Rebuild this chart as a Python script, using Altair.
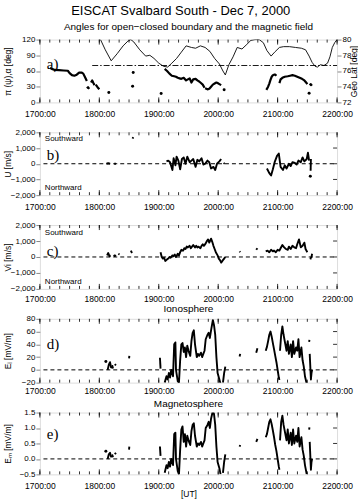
import altair as alt
import pandas as pd

FONT = "Liberation Sans"
SERIF = "Liberation Serif"
W = 298
HA, HB, HC, HD, HE = 63, 63, 64, 64, 62

HOUR_TICKS = [17, 18, 19, 20, 21, 22]
MINOR_TICKS = [17 + i / 6 for i in range(31)]

# ---------------- panel a ----------------
GEO_T = [18.02, 18.10, 18.20, 18.30, 18.40, 18.48, 18.53, 18.58, 18.68, 18.78, 18.85, 18.92, 19.00,
         19.08, 19.15, 19.22, 19.30, 19.38, 19.46, 19.55, 19.62, 19.70, 19.78, 19.86, 19.94, 20.02,
         20.08, 20.12, 20.18, 20.25, 20.32, 20.40, 20.47, 20.55, 20.62, 20.69, 20.76, 20.82, 20.89,
         20.95, 21.03, 21.10, 21.20, 21.30, 21.40, 21.47, 21.53, 21.58, 21.63, 21.67, 21.72, 21.78,
         21.84, 21.88, 21.92, 21.96, 22.00]
GEO_LAT = [80.0, 78.7, 77.3, 78.2, 79.2, 79.8, 80.0, 79.7, 78.7, 77.9, 78.0, 77.6, 77.0,
           76.6, 76.5, 77.0, 77.6, 78.4, 79.2, 79.0, 78.9, 79.2, 79.0, 78.5, 77.6, 76.9,
           76.0, 75.5, 76.8, 77.8, 79.0, 78.8, 79.3, 79.9, 80.0, 80.0, 79.6, 78.6, 77.9,
           78.4, 79.0, 79.1, 79.1, 79.0, 78.9, 78.7, 77.9, 77.1, 76.6, 76.5, 76.8, 76.7,
           77.0, 77.8, 79.0, 79.6, 80.0]

BOUNDARY_ANGLE = [70.5]
BOUNDARY_T = [17.88, 22.0]

ALPHA_SEG_T = [
    [17.17, 17.20, 17.25, 17.32, 17.40, 17.47, 17.50, 17.54, 17.58, 17.62, 17.66, 17.70, 17.73, 17.76, 17.79],
    [17.79, 17.81, 17.83],
    [17.86, 17.88, 17.90, 17.92],
    [17.94, 17.97, 18.00],
    [19.10, 19.14, 19.18, 19.22, 19.26, 19.29, 19.32, 19.35, 19.38, 19.42, 19.46, 19.49, 19.52, 19.55,
     19.58, 19.62, 19.65, 19.68, 19.71, 19.74, 19.77],
    [19.78, 19.80, 19.82, 19.85, 19.88, 19.91, 19.94, 19.97, 19.99, 20.02, 20.05],
    [20.81, 20.84, 20.86, 20.88, 20.90, 20.92, 20.94, 20.96, 20.98],
    [21.03, 21.05, 21.08, 21.12, 21.17, 21.21, 21.25, 21.29, 21.33, 21.37, 21.41, 21.45, 21.48, 21.50],
    [21.54, 21.56, 21.58],
]
ALPHA_SEG_V = [
    [66, 64, 62, 61.5, 61, 60.5, 56, 52, 51, 53, 57, 57, 55, 48, 41],
    [27, 29, 26],
    [38, 42, 37, 33],
    [34, 29, 25],
    [64, 60, 55, 51, 50, 49, 47, 46, 45, 47, 42, 44, 46, 38, 44, 45, 42, 40, 37, 34, 28],
    [27, 26, 25, 26, 30, 34, 36, 38, 37, 35, 33],
    [24, 30, 36, 43, 49, 52, 53, 53, 51],
    [37, 44, 47, 49, 50, 51, 52, 51, 49, 47, 45, 42, 38, 35],
    [36, 33, 35],
]
ALPHA_DOT_T = [18.16, 18.56, 18.57, 19.04, 20.10, 21.53]
ALPHA_DOT_V = [19, 31, 57, 17, 24, 17.5]

# ---------------- panel b (U) ----------------
B_SEG_T = [
    [18.12, 18.15, 18.18], [18.25, 18.28], [18.56, 18.57],
    [19.13, 19.16, 19.19, 19.23, 19.25, 19.28, 19.30, 19.33, 19.36, 19.39, 19.42, 19.45, 19.48, 19.52,
     19.55, 19.58, 19.62, 19.65, 19.68, 19.72, 19.75, 19.78, 19.82, 19.85, 19.88, 19.92, 19.95, 19.98,
     20.02, 20.05],
    [20.09, 20.11],
    [20.82, 20.86, 20.89, 20.92, 20.95, 20.99, 21.02, 21.05, 21.09, 21.12, 21.15, 21.19, 21.22, 21.25,
     21.29, 21.32, 21.35, 21.39, 21.42, 21.45, 21.49, 21.51, 21.53],
    [21.555, 21.56],
]
B_SEG_V = [
    [0, 30, 0], [0, 0], [1600, 1700],
    [150, 200, 100, -400, 350, -100, 450, 200, -350, 300, 400, 0, 450, 100, 200, 300, -200, 250, 150,
     350, -50, 0, 200, 100, -300, -200, -400, 0, 150, 300],
    [50, 0],
    [-300, -600, -750, -350, 100, 500, 650, -200, -400, -100, -300, 0, -150, 100, 50, -50, 200, 100,
     400, 150, 300, 700, 200],
    [-450, 300],
]
B_DOT_T = [21.55]
B_DOT_V = [-800]

# ---------------- panel c (Vi) ----------------
C_SEG_T = [
    [18.13, 18.15, 18.17, 18.19], [18.24, 18.26, 18.28], [18.32, 18.34], [18.53, 18.55],
    [19.03, 19.05, 19.07, 19.09, 19.11, 19.14, 19.16, 19.18, 19.20, 19.23, 19.25, 19.27, 19.29, 19.32,
     19.34, 19.36, 19.38, 19.41, 19.43, 19.45, 19.47, 19.49, 19.52, 19.54, 19.56, 19.58, 19.61, 19.63,
     19.65, 19.67, 19.70, 19.72, 19.74, 19.76, 19.79, 19.81, 19.83, 19.85, 19.88, 19.90, 19.92, 19.94,
     19.96, 19.99, 20.01, 20.03, 20.05, 20.08, 20.10, 20.12],
    [20.36, 20.37], [20.64, 20.66],
    [20.80, 20.83, 20.86, 20.89, 20.92, 20.94, 20.97, 21.00, 21.03, 21.05, 21.08, 21.11, 21.14, 21.17,
     21.19, 21.22, 21.25, 21.28, 21.31, 21.33, 21.36, 21.39, 21.42, 21.45, 21.47, 21.50],
    [21.55, 21.56, 21.57, 21.58],
]
C_SEG_V = [
    [100, 250, 50, 100], [50, 100, 50], [200, 150], [400, 250],
    [300, 0, -100, -50, -250, -150, -100, 0, -50, 100, 50, 150, 0, 200, 100, 300, 450, 400, 550, 500,
     650, 600, 700, 550, 650, 750, 600, 700, 600, 650, 550, 700, 800, 700, 850, 1000, 1100, 900, 1150,
     950, 700, 500, 300, 100, -100, -200, -350, -200, -100, 0],
    [350, 300], [450, 550],
    [350, 400, 300, 450, 350, 400, 300, 450, 400, 550, 750, 600, 500, 450, 650, 500, 700, 600, 550, 800,
     1100, 600, 700, 900, 500, 300],
    [-150, -50, 0, 200],
]

# ---------------- panels d (Ei) and e (Em) ----------------
E_SEG_T = [
    [18.14, 18.16, 18.18, 18.20], [18.21, 18.22, 18.23], [18.26, 18.28], [18.50, 18.505], [19.02, 19.03],
    [19.10, 19.13, 19.15, 19.17, 19.19, 19.21, 19.24, 19.26, 19.28, 19.29, 19.32, 19.34, 19.36, 19.38,
     19.40, 19.42, 19.44, 19.46, 19.48, 19.50, 19.53, 19.55, 19.57, 19.59, 19.61, 19.64, 19.66, 19.68,
     19.71, 19.73, 19.75, 19.77, 19.79, 19.82, 19.84, 19.86, 19.88, 19.91, 19.93, 19.95, 19.97, 19.99,
     20.02, 20.04],
    [20.08, 20.10, 20.12], [20.36, 20.37], [20.64, 20.66],
    [20.80, 20.82, 20.84, 20.86, 20.88, 20.90, 20.92, 20.94, 20.96, 20.98, 21.00, 21.02, 21.03],
    [21.04, 21.06, 21.08, 21.10, 21.13, 21.15, 21.17, 21.19, 21.22, 21.24, 21.26, 21.28, 21.31, 21.33,
     21.35, 21.37, 21.40, 21.42, 21.44, 21.46, 21.49],
    [21.53, 21.535],
    [21.54, 21.55, 21.56, 21.57, 21.58],
]
EI_SEG_V = [
    [0, 8, 12, 3], [2, 6, 2], [9, 7], [18, 22], [19, 2],
    [-20, -10, -15, -5, -12, 0, -10, 40, 43, 0, -18, -20, 15, 40, 42, 28, 35, 20, 38, 30, 22, 45, 58, 62,
     40, 20, 25, 22, 27, 20, 25, 30, 48, 55, 58, 50, 62, 78, 70, 55, 20, -5, -15, -22],
    [-20, -5, 5], [21, 25], [27, 34],
    [30, 36, 45, 55, 60, 52, 42, 32, 22, 12, 0, -12, -16],
    [30, 55, 68, 55, 40, 30, 45, 25, 40, 20, 45, 25, 35, 30, 48, 20, 35, 15, 5, -10, -22],
    [44, 47],
    [25, 5, -15, -5, 0],
]
EM_SEG_V = [
    [0.0, 0.15, 0.2, 0.05], [0.05, 0.12, 0.05], [0.2, 0.15], [0.3, 0.4], [0.4, 0.1],
    [-0.45, -0.2, -0.3, -0.1, -0.25, 0.0, -0.2, 0.8, 0.85, 0.0, -0.4, -0.5, 0.3, 0.95, 1.05, 0.55, 0.8,
     0.4, 0.75, 0.6, 0.45, 0.9, 1.1, 1.15, 0.75, 0.4, 0.5, 0.45, 0.55, 0.4, 0.5, 0.6, 1.0, 1.1, 1.2, 1.0,
     1.3, 1.55, 1.45, 1.1, 0.4, -0.1, -0.3, -0.5],
    [-0.45, -0.1, 0.15], [0.4, 0.45], [0.55, 0.65],
    [0.70, 0.80, 1.0, 1.20, 1.28, 1.12, 0.92, 0.70, 0.45, 0.25, 0.0, -0.25, -0.35],
    [0.6, 1.2, 1.40, 1.1, 0.8, 0.6, 0.95, 0.5, 0.85, 0.45, 0.95, 0.5, 0.75, 0.55, 1.0, 0.4, 0.7, 0.3,
     0.1, -0.2, -0.5],
    [0.95, 1.02],
    [0.55, 0.1, -0.35, -0.1, 0.0],
]
EI_DOT_T, EI_DOT_V = [18.11], [13]
EM_DOT_T, EM_DOT_V = [18.11], [0.25]


def seg_df(seg_t, seg_v):
    rows = []
    for i, (ts, vs) in enumerate(zip(seg_t, seg_v)):
        for t, v in zip(ts, vs):
            rows.append({"seg": i, "t": t, "v": v})
    return pd.DataFrame(rows)


def x_enc(title=None, pad=7):
    axis = alt.Axis(values=HOUR_TICKS, labelExpr="format(datum.value*100,'d') + ':00'",
                    ticks=False, tickSize=0, domain=False, grid=False, labelFontSize=8.5,
                    labelPadding=pad, labelFont=FONT, titleFontSize=8.5, titlePadding=0,
                    titleFontWeight="normal", labelAlign="center", labelFlush=False,
                    labelOverlap=False)
    return alt.X("t:Q", scale=alt.Scale(domain=[17, 22], nice=False, zero=False), axis=axis, title=title)


def y_enc(domain, values, title, fmt=None, field="v"):
    kw = dict(values=values, title=title, tickSize=4, labelPadding=1, grid=False, domain=False,
              titleX=-32, titleBaseline="middle", titleAngle=270, labelFontSize=8, titleFontSize=8.5,
              titleFontWeight="normal")
    if fmt:
        kw["format"] = fmt
    return alt.Y(f"{field}:Q", scale=alt.Scale(domain=domain, nice=False, zero=False),
                 axis=alt.Axis(**kw))


def frame_ticks(h, xe, ye=None, yvals=None):
    layers = []
    for vals, ln in ((MINOR_TICKS, 3), (HOUR_TICKS, 5)):
        df = pd.DataFrame({"t": vals})
        layers.append(alt.Chart(df).mark_rule(color="black", strokeWidth=0.8).encode(
            x=xe, y=alt.value(0), y2=alt.value(ln)))
        layers.append(alt.Chart(df).mark_rule(color="black", strokeWidth=0.8).encode(
            x=xe, y=alt.value(h), y2=alt.value(h - ln)))
    if ye is not None:
        df = pd.DataFrame({"v": yvals})
        layers.append(alt.Chart(df).mark_rule(color="black", strokeWidth=0.8).encode(
            y=ye, x=alt.value(W - 4), x2=alt.value(W)))
    return layers


def label(text, x, y):
    return alt.Chart(pd.DataFrame({"lab": [text]})).mark_text(
        font=SERIF, fontSize=15, align="left", baseline="middle", color="black").encode(
        text="lab:N", x=alt.value(x), y=alt.value(y))


def small_text(text, y):
    return alt.Chart(pd.DataFrame({"lab": [text]})).mark_text(
        font=FONT, fontSize=8, align="left", baseline="middle", color="black").encode(
        text="lab:N", x=alt.value(5), y=alt.value(y))


def zero_line(xe, ye):
    df = pd.DataFrame({"t": [17.06], "t2": [21.98], "v": [0]})
    return alt.Chart(df).mark_rule(color="black", strokeWidth=1, strokeDash=[4, 3]).encode(
        x=xe, x2="t2:Q", y=ye)


def data_layers(seg_t, seg_v, xe, ye, dot_t=None, dot_v=None, sw=1.9):
    layers = [alt.Chart(seg_df(seg_t, seg_v)).mark_line(
        color="black", strokeWidth=sw, clip=True, strokeJoin="round").encode(x=xe, y=ye, detail="seg:N")]
    if dot_t:
        layers.append(alt.Chart(pd.DataFrame({"t": dot_t, "v": dot_v})).mark_circle(
            color="black", size=9, opacity=1, clip=True).encode(x=xe, y=ye))
    return layers


def title_params(text, offset):
    return alt.TitleParams(text, fontSize=10, font=FONT, fontWeight="normal", anchor="middle",
                           offset=offset, color="black")


# ---- panel a ----
xa = x_enc()
ya = y_enc([0, 120], [0, 30, 60, 90, 120], "π (ψ),α [deg]")
dash_df = pd.DataFrame({"t": [BOUNDARY_T[0]], "t2": [BOUNDARY_T[1]], "v": BOUNDARY_ANGLE})
left_a = alt.layer(
    *data_layers(ALPHA_SEG_T, ALPHA_SEG_V, xa, ya, ALPHA_DOT_T, ALPHA_DOT_V, sw=2.2),
    alt.Chart(dash_df).mark_rule(color="black", strokeWidth=0.9, strokeDash=[6, 2, 1.5, 2]).encode(
        x=xa, x2="t2:Q", y=ya),
    *frame_ticks(HA, xa),
    label("a)", 7, 24),
)
geo = alt.Chart(pd.DataFrame({"t": GEO_T, "lat": GEO_LAT})).mark_line(
    color="black", strokeWidth=0.9, clip=True).encode(
    x=xa,
    y=alt.Y("lat:Q", scale=alt.Scale(domain=[72, 80], nice=False, zero=False),
            axis=alt.Axis(orient="right", values=[72, 74, 76, 78, 80], title="Geo Lat [deg]",
                          tickSize=4, labelPadding=1, grid=False, domain=False, titleX=16,
                          titleBaseline="middle", titleAngle=270, labelFontSize=8, titleFontSize=8.5,
                          titleFontWeight="normal")),
)
panel_a = alt.layer(left_a, geo).resolve_scale(y="independent").properties(
    width=W, height=HA, title=title_params("Angles for open\u2212closed boundary and the magnetic field", 4))

# ---- panel b ----
xb = x_enc()
yb = y_enc([-2000, 2000], [-2000, -1000, 0, 1000, 2000], "U [m/s]")
panel_b = alt.layer(
    zero_line(xb, yb),
    *data_layers(B_SEG_T, B_SEG_V, xb, yb, B_DOT_T, B_DOT_V),
    *frame_ticks(HB, xb, yb, [-1000, 0, 1000]),
    small_text("Southward", 7), small_text("Northward", HB - 7),
    label("b)", 7, 23),
).properties(width=W, height=HB)

# ---- panel c ----
xc = x_enc(pad=6)
yc = y_enc([-2000, 2000], [-2000, -1000, 0, 1000, 2000], "Vi [m/s]")
panel_c = alt.layer(
    zero_line(xc, yc),
    *data_layers(C_SEG_T, C_SEG_V, xc, yc),
    *frame_ticks(HC, xc, yc, [-1000, 0, 1000]),
    small_text("Southward", 8), small_text("Northward", HC - 7),
    label("c)", 7, 26),
).properties(width=W, height=HC)

# ---- panel d ----
xd = x_enc(pad=4)
yd = y_enc([-20, 80], [-20, 0, 20, 40, 60, 80], "E\u1d62 [mV/m]")
panel_d = alt.layer(
    zero_line(xd, yd),
    *data_layers(E_SEG_T, EI_SEG_V, xd, yd, EI_DOT_T, EI_DOT_V),
    *frame_ticks(HD, xd, yd, [0, 20, 40, 60]),
    label("d)", 7, 25),
).properties(width=W, height=HD, title=title_params("Ionosphere", 1))

# ---- panel e ----
xe = x_enc("[UT]")
ye = y_enc([-0.5, 1.5], [-0.5, 0.0, 0.5, 1.0, 1.5], "E\u2098 [mV/m]", fmt=".1f")
panel_e = alt.layer(
    zero_line(xe, ye),
    *data_layers(E_SEG_T, EM_SEG_V, xe, ye, EM_DOT_T, EM_DOT_V),
    *frame_ticks(HE, xe, ye, [0.0, 0.5, 1.0]),
    label("e)", 7, 22),
).properties(width=W, height=HE, title=title_params("Magnetosphere", 0))

chart = alt.vconcat(
    panel_a, panel_b, panel_c, panel_d, panel_e, spacing=30, bounds="flush",
    title=alt.TitleParams("EISCAT Svalbard South - Dec 7, 2000", fontSize=13, font=FONT,
                          fontWeight="normal", anchor="middle", offset=3, color="black"),
    padding={"left": 3, "top": 4, "right": 0, "bottom": 0},
).configure_view(stroke="black", strokeWidth=1.1).configure_axis(
    labelFont=FONT, titleFont=FONT, labelColor="black", titleColor="black", tickColor="black",
    domainColor="black", tickWidth=0.8
).configure(background="white")

chart.save("out.html", embed_options={"renderer": "svg", "actions": False})
